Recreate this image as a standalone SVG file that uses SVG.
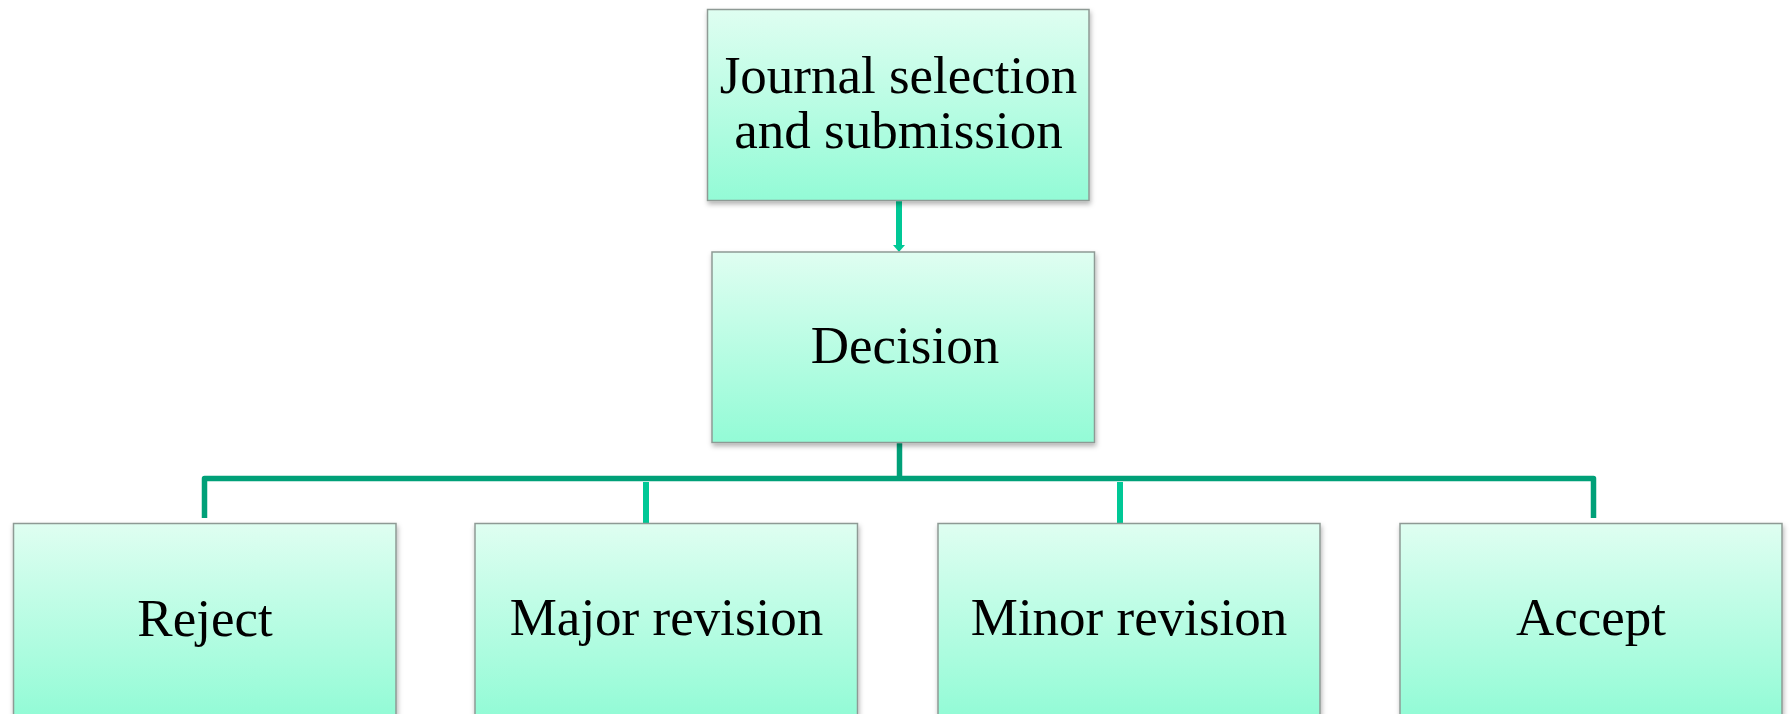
<svg xmlns="http://www.w3.org/2000/svg" width="1791" height="714" viewBox="0 0 1791 714">
<defs>
<linearGradient id="g" x1="0" y1="0" x2="0" y2="1">
<stop offset="0" stop-color="#DFFEF1"/>
<stop offset="1" stop-color="#93FBD6"/>
</linearGradient>
<filter id="sh" x="-5%" y="-5%" width="112%" height="115%">
<feDropShadow dx="1" dy="3" stdDeviation="2.5" flood-color="#000" flood-opacity="0.3"/>
</filter>
<marker id="ah" markerWidth="4" markerHeight="3" refX="2" refY="0" orient="auto" markerUnits="strokeWidth" viewBox="0 0 4 3">
<path d="M0,0 L4,0 L2,1.3 Z" fill="#00C896"/>
</marker>
<style>
.box{fill:url(#g);stroke:#8E9A95;stroke-width:1.5;filter:url(#sh)}
.t{font-family:"Liberation Serif","Times New Roman",serif;font-size:53px;fill:#000;text-anchor:middle}
.dk{stroke:#00A078;stroke-width:5.5;fill:none;stroke-linejoin:round}
.br{stroke:#00C896;stroke-width:6;fill:none}
</style>
</defs>
<g id="connectors">
<line class="br" x1="899" y1="200" x2="899" y2="245"/>
<path d="M893,245 L905,245 L899,252 Z" fill="#00C896"/>
<line class="dk" x1="899.5" y1="442" x2="899.5" y2="478" stroke-width="6.5"/>
<path class="dk" d="M204.5,518 L204.5,478.5 L1593.5,478.5 L1593.5,518"/>
<line class="br" x1="646" y1="482" x2="646" y2="523"/>
<line class="br" x1="1120" y1="482" x2="1120" y2="523"/>
</g>
<g id="n-journal">
<rect class="box" x="707.5" y="9.5" width="381.5" height="191"/>
<text class="t" x="898.5" y="93">Journal selection</text>
<text class="t" x="898.5" y="148">and submission</text>
</g>
<g id="n-decision">
<rect class="box" x="712" y="252" width="382.5" height="190.5"/>
<text class="t" x="905" y="363">Decision</text>
</g>
<g id="n-reject">
<rect class="box" x="13.5" y="523.5" width="382.5" height="192"/>
<text class="t" x="205" y="636">Reject</text>
</g>
<g id="n-major">
<rect class="box" x="475" y="523.5" width="382.5" height="192"/>
<text class="t" x="666.5" y="635">Major revision</text>
</g>
<g id="n-minor">
<rect class="box" x="938" y="523.5" width="382" height="192"/>
<text class="t" x="1129" y="635">Minor revision</text>
</g>
<g id="n-accept">
<rect class="box" x="1400" y="523.5" width="382" height="192"/>
<text class="t" x="1591" y="635">Accept</text>
</g>
</svg>
